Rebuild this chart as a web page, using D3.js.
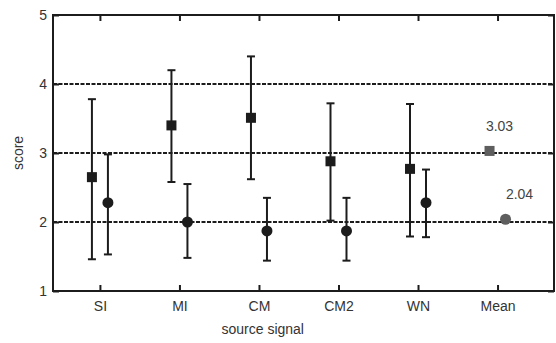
<!DOCTYPE html>
<html>
<head>
<meta charset="utf-8">
<script src="https://cdn.jsdelivr.net/npm/d3@7"></script>
<style>
  html, body { margin: 0; padding: 0; background: #fff; }
  svg { display: block; font-family: "Liberation Sans", Arial, sans-serif; }
</style>
</head>
<body>
<svg id="chart" width="556" height="343"></svg>
<script>
// Categories of source signal
const categories = ["SI", "MI", "CM", "CM2", "WN", "Mean"];

// Square series: mean and error-bar limits
const squareMean = [2.65, 3.40, 3.51, 2.88, 2.77, 3.03];
const squareLow  = [1.46, 2.58, 2.62, 2.02, 1.79, null];
const squareHigh = [3.78, 4.20, 4.40, 3.72, 3.71, null];

// Circle series: mean and error-bar limits
const circleMean = [2.28, 2.00, 1.87, 1.87, 2.28, 2.04];
const circleLow  = [1.53, 1.48, 1.44, 1.44, 1.78, null];
const circleHigh = [2.98, 2.55, 2.35, 2.35, 2.76, null];

// Y axis ticks and dashed reference lines
const yTicks = [1, 2, 3, 4, 5];
const gridValues = [2, 3, 4];

const svg = d3.select("#chart");
const plotLeft = 53, plotRight = 554, plotTop = 15, plotBottom = 291;

const x = d3.scaleLinear().domain([-0.59, 5.71]).range([plotLeft, plotRight]);
const y = d3.scaleLinear().domain([1, 5]).range([plotBottom, plotTop]);

const ink = "#1c1c1c";
const meanInk = "#5e5e5e";
const textInk = "#333";

// dashed reference lines
svg.append("g").selectAll("line").data(gridValues).join("line")
  .attr("x1", plotLeft).attr("x2", plotRight)
  .attr("y1", d => y(d)).attr("y2", d => y(d))
  .attr("stroke", ink).attr("stroke-width", 2)
  .attr("stroke-dasharray", "4,1.5");

// axes with inward ticks, mirrored on top and right
const idx = categories.map((_, i) => i);
const xBottom = d3.axisBottom(x).tickValues(idx).tickFormat(i => categories[i]).tickSizeInner(-6).tickSizeOuter(0).tickPadding(10);
const xTop = d3.axisTop(x).tickValues(idx).tickFormat("").tickSizeInner(-6).tickSizeOuter(0);
const yLeft = d3.axisLeft(y).tickValues(yTicks).tickFormat(d3.format("d")).tickSizeInner(-6).tickSizeOuter(0).tickPadding(6);
const yRight = d3.axisRight(y).tickValues(yTicks).tickFormat("").tickSizeInner(-6).tickSizeOuter(0);

function styleAxis(g) {
  g.select(".domain").remove();
  g.selectAll(".tick line").attr("stroke", ink).attr("stroke-width", 2);
  g.selectAll(".tick text").attr("fill", textInk).attr("font-size", 14).attr("font-family", "Liberation Sans, Arial, sans-serif");
}
svg.append("g").attr("transform", `translate(0,${plotBottom})`).call(xBottom).call(styleAxis);
svg.append("g").attr("transform", `translate(0,${plotTop})`).call(xTop).call(styleAxis);
svg.append("g").attr("transform", `translate(${plotLeft},0)`).call(yLeft).call(styleAxis);
svg.append("g").attr("transform", `translate(${plotRight},0)`).call(yRight).call(styleAxis);

// frame
svg.append("rect")
  .attr("x", plotLeft).attr("y", plotTop)
  .attr("width", plotRight - plotLeft).attr("height", plotBottom - plotTop)
  .attr("fill", "none").attr("stroke", ink).attr("stroke-width", 2);

// error bars
const sqOff = -8, ciOff = 8, cap = 4;
function errorBars(means, lows, highs, off) {
  const rows = idx.filter(i => lows[i] != null);
  const g = svg.append("g").attr("stroke", ink).attr("stroke-width", 2);
  g.selectAll("line.v").data(rows).join("line").attr("class", "v")
    .attr("x1", i => x(i) + off).attr("x2", i => x(i) + off)
    .attr("y1", i => y(lows[i])).attr("y2", i => y(highs[i]));
  g.selectAll("line.h").data(rows).join("line").attr("class", "h")
    .attr("x1", i => x(i) + off - cap).attr("x2", i => x(i) + off + cap)
    .attr("y1", i => y(highs[i])).attr("y2", i => y(highs[i]));
  g.selectAll("line.l").data(rows).join("line").attr("class", "l")
    .attr("x1", i => x(i) + off - cap).attr("x2", i => x(i) + off + cap)
    .attr("y1", i => y(lows[i])).attr("y2", i => y(lows[i]));
}
errorBars(squareMean, squareLow, squareHigh, sqOff);
errorBars(circleMean, circleLow, circleHigh, ciOff);

// markers
const sq = 10;
svg.append("g").selectAll("rect").data(idx).join("rect")
  .attr("x", i => x(i) + sqOff - sq / 2)
  .attr("y", i => y(squareMean[i]) - sq / 2)
  .attr("width", sq).attr("height", sq)
  .attr("fill", i => categories[i] === "Mean" ? meanInk : ink);

svg.append("g").selectAll("circle").data(idx).join("circle")
  .attr("cx", i => x(i) + ciOff)
  .attr("cy", i => y(circleMean[i]))
  .attr("r", 5.5)
  .attr("fill", i => categories[i] === "Mean" ? meanInk : ink);

// value labels for the mean markers
const mi = categories.indexOf("Mean");
svg.append("text")
  .attr("x", x(mi) + 2).attr("y", y(squareMean[mi]) - 20)
  .attr("text-anchor", "middle").attr("font-size", 14).attr("fill", "#444")
  .text(squareMean[mi].toFixed(2));
svg.append("text")
  .attr("x", x(mi) + 22).attr("y", y(circleMean[mi]) - 20)
  .attr("text-anchor", "middle").attr("font-size", 14).attr("fill", "#444")
  .text(circleMean[mi].toFixed(2));

// axis titles
svg.append("text")
  .attr("x", (x(0) + x(5)) / 2 - 36).attr("y", 334)
  .attr("text-anchor", "middle").attr("font-size", 14).attr("fill", textInk)
  .text("source signal");
svg.append("text")
  .attr("transform", `translate(23,${(plotTop + plotBottom) / 2}) rotate(-90)`)
  .attr("text-anchor", "middle").attr("font-size", 14).attr("fill", textInk)
  .text("score");
</script>
</body>
</html>
